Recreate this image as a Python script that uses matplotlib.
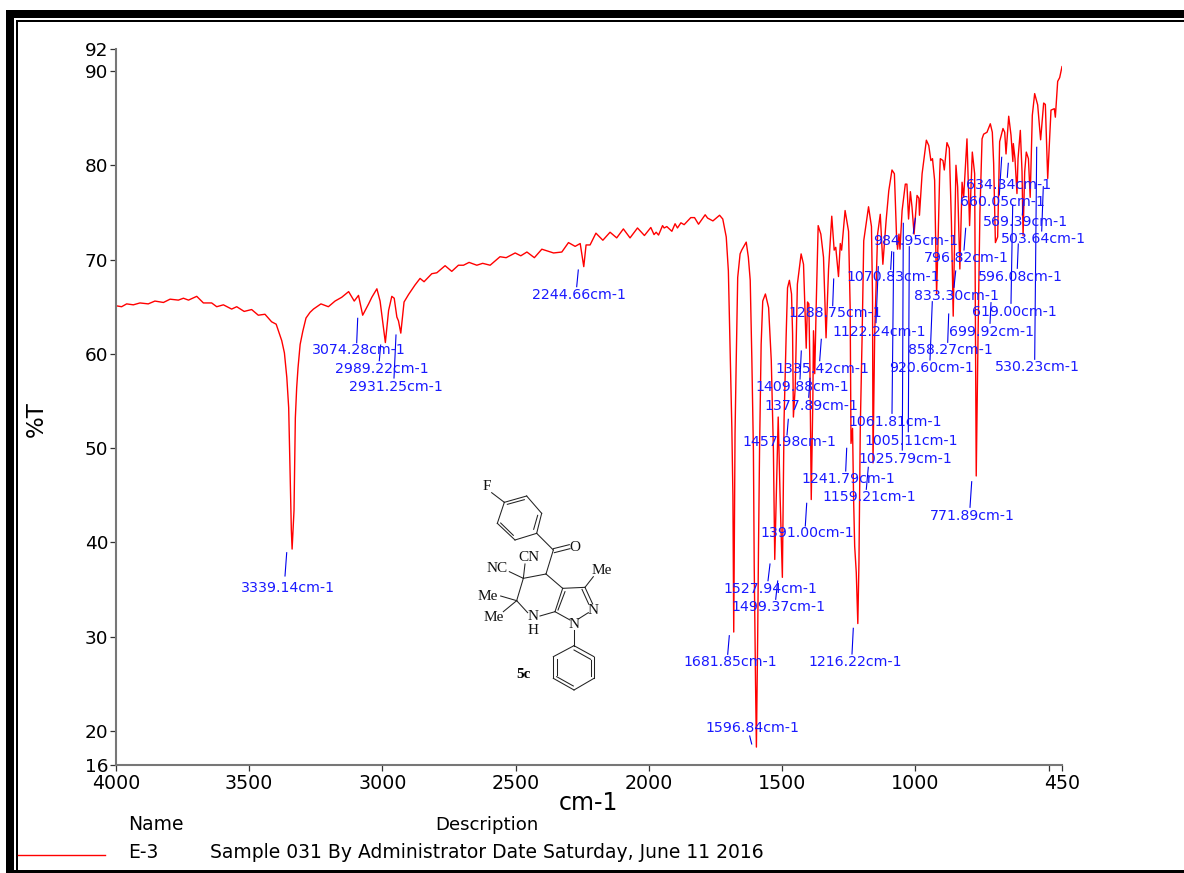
import matplotlib
matplotlib.use("Agg")
import matplotlib.pyplot as plt
from matplotlib.lines import Line2D
from matplotlib.patches import Rectangle

W, H = 1184, 873

wavenumber = [
    4000, 3979, 3960, 3935, 3910, 3879, 3854, 3822, 3797, 3766, 3747, 3728, 3697, 3672, 3641, 3622,
    3597, 3566, 3547, 3519, 3491, 3466, 3441, 3416, 3399, 3378, 3368, 3359, 3352, 3346, 3342, 3339.14,
    3332, 3327, 3322, 3317, 3309, 3299, 3287, 3272, 3259, 3231, 3203, 3178, 3153, 3127, 3106, 3090,
    3074.28, 3052, 3040, 3021, 3009, 2989.22, 2977, 2965, 2956, 2946, 2940, 2931.25, 2919, 2902, 2878, 2859,
    2844, 2815, 2796, 2765, 2740, 2715, 2696, 2675, 2646, 2624, 2596, 2559, 2536, 2502, 2481, 2458,
    2430, 2402, 2358, 2327, 2302, 2277, 2258, 2244.66, 2236, 2221, 2199, 2173, 2146, 2121, 2096, 2071,
    2043, 2017, 1993, 1981, 1973, 1964, 1949, 1943, 1933, 1914, 1902, 1893, 1880, 1868, 1843, 1829,
    1814, 1789, 1780, 1760, 1735, 1723, 1710, 1702, 1689, 1685, 1681.85, 1677, 1673, 1667, 1658, 1652,
    1635, 1627, 1620, 1614, 1608, 1605, 1600, 1596.84, 1592, 1589, 1585, 1579, 1573, 1563, 1551, 1541,
    1533, 1527.94, 1515, 1508, 1499.37, 1493, 1485, 1480, 1473, 1465, 1461, 1457.98, 1451, 1443, 1429, 1420,
    1414, 1409.88, 1405, 1400, 1396, 1391, 1385, 1382.6, 1377.89, 1372, 1365, 1355, 1345, 1335.42, 1326, 1314,
    1305, 1299, 1288.75, 1282, 1277, 1264, 1251, 1245, 1241.79, 1236, 1232, 1228, 1222, 1216.22, 1212, 1207,
    1200, 1194, 1176, 1165, 1161, 1159.21, 1153, 1150, 1142, 1132, 1122.24, 1110, 1100, 1088, 1079, 1070.83,
    1067, 1061.81, 1058, 1050, 1038, 1032, 1025.79, 1019, 1013, 1005.11, 994, 987, 984.95, 975, 959, 950,
    942, 936, 928, 920.6, 915, 909, 906.7, 896.7, 891.7, 881.7, 872.9, 865, 858.27, 847.9, 841.6, 833.3,
    825, 819, 806.6, 796.82, 786.6, 777.8, 771.89, 765, 758, 750, 744, 731.5, 719, 711.5, 706.5, 699.92,
    691.5, 684, 671.5, 665, 660.05, 650, 641.4, 634.34, 632.7, 626.4, 619, 615, 606.4, 600, 596.08, 590,
    584, 576, 569.39, 561.4, 552.6, 541.3, 530.23, 518.8, 512.5, 503.64, 491.3, 478.8, 475, 466.2, 458.7, 450,
]
transmittance = [
    65.1, 65.0, 65.3, 65.2, 65.4, 65.3, 65.6, 65.45, 65.8, 65.7, 65.9, 65.7, 66.1, 65.4, 65.4, 65.0,
    65.2, 64.75, 65.0, 64.5, 64.7, 64.1, 64.2, 63.4, 63.15, 61.4, 60.1, 57.5, 54.3, 46.5, 41.3, 39.3,
    43.4, 53.2, 56.4, 58.5, 61.0, 62.4, 63.8, 64.4, 64.75, 65.3, 65.0, 65.6, 66.0, 66.6, 65.6, 66.2,
    64.1, 65.3, 66.0, 66.9, 65.6, 61.2, 64.6, 66.1, 65.9, 63.9, 63.5, 62.2, 65.5, 66.3, 67.3, 68.0,
    67.65, 68.5, 68.6, 69.35, 68.75, 69.4, 69.4, 69.7, 69.4, 69.6, 69.4, 70.3, 70.2, 70.7, 70.4, 70.8,
    70.2, 71.1, 70.7, 70.8, 71.8, 71.4, 71.7, 69.25, 71.55, 71.55, 72.8, 72.05, 72.9, 72.3, 73.25, 72.3,
    73.35, 72.55, 73.4, 72.65, 72.9, 72.6, 73.6, 73.35, 73.5, 73.0, 73.8, 73.35, 73.9, 73.7, 74.45, 74.45,
    73.75, 74.75, 74.4, 74.1, 74.7, 74.3, 72.4, 68.8, 52.2, 45.0, 30.5, 51.5, 58.5, 68.1, 70.6, 71.0,
    71.85, 70.25, 67.8, 59.6, 49.7, 37.5, 25.0, 18.3, 30.0, 39.2, 49.8, 61.0, 65.6, 66.35, 64.9, 59.3,
    49.8, 38.2, 53.3, 45.0, 36.3, 53.0, 62.1, 67.0, 67.8, 66.35, 62.1, 53.3, 56.5, 67.4, 70.6, 69.5,
    64.2, 60.6, 65.5, 65.3, 58.7, 44.55, 55.1, 62.45, 57.9, 65.6, 73.6, 72.7, 70.25, 61.7, 69.0, 74.6,
    71.0, 71.3, 68.2, 71.7, 71.0, 75.2, 73.0, 65.0, 50.5, 52.1, 44.55, 39.6, 36.8, 31.4, 37.8, 52.1,
    62.0, 72.0, 75.6, 73.5, 66.0, 48.45, 62.0, 65.0, 72.7, 74.8, 69.5, 74.15, 77.3, 79.5, 79.1, 72.4,
    71.1, 72.7, 71.1, 75.2, 78.0, 78.0, 74.3, 77.2, 75.6, 72.7, 76.8, 76.5, 74.7, 79.1, 82.66, 82.1,
    80.5, 80.7, 78.4, 66.3, 72.0, 79.1, 80.7, 80.5, 79.5, 82.4, 81.8, 74.0, 64.0, 80.0, 77.7, 69.0,
    78.2, 76.6, 82.8, 73.6, 81.4, 79.1, 47.05, 62.0, 75.0, 82.8, 83.3, 83.5, 84.4, 83.5, 80.2, 71.8,
    72.4, 82.5, 83.9, 83.5, 81.2, 85.2, 83.2, 80.4, 82.3, 80.7, 77.0, 80.7, 83.7, 79.3, 72.55, 79.3,
    81.4, 80.7, 76.6, 85.3, 87.6, 86.4, 82.7, 86.6, 86.45, 78.6, 85.85, 86.0, 85.1, 88.9, 89.3, 90.46,
]

peak_names = [
    3339.14, 3074.28, 2989.22, 2931.25, 2244.66, 1681.85, 1596.84, 1527.94, 1499.37, 1457.98, 1409.88, 1391.00,
    1377.89, 1335.42, 1288.75, 1241.79, 1216.22, 1159.21, 1122.24, 1070.83, 1061.81, 1025.79, 1005.11, 984.95,
    920.60, 858.27, 833.30, 796.82, 771.89, 699.92, 660.05, 634.34, 619.00, 596.08, 569.39, 530.23, 503.64,
]
# layout only, in image pixels: label centre x, label centre y, leader x0 y0 x1 y1
peak_layout = [
    (288, 588, 286.7, 552.7, 285, 576), (359, 350, 357.7, 318.3, 356.7, 342.7),
    (382, 368.7, 380.7, 345, 379.3, 360.7), (396, 386.7, 396, 335, 394, 378),
    (579, 295, 578.3, 270, 576.7, 286.7), (730, 661.7, 729.3, 635.7, 727.7, 654.3),
    (752.3, 727.7, 749.7, 736, 751.7, 744), (770.7, 588.7, 770, 564, 768, 580.7),
    (778.3, 607.3, 777.7, 581, 775.7, 599.3), (789.7, 441.7, 788.3, 419.3, 787, 435),
    (802.7, 386.7, 801.3, 351, 800, 379), (807.7, 533.3, 806.7, 503.3, 805.3, 526),
    (811, 406, 810, 378.3, 808.7, 397.3), (822.3, 369, 821.3, 339.3, 819.7, 360.7),
    (835, 313.3, 833.7, 279, 832.7, 305.7), (848.3, 478.7, 846.7, 448.3, 845.7, 471),
    (855, 661.7, 853.3, 628.3, 852, 654), (869, 496.7, 868.3, 467.3, 866.3, 489.3),
    (879, 331.7, 878.3, 266.7, 876, 322.7), (893.3, 276.7, 891.7, 251.7, 890.7, 269.3),
    (895.3, 422.3, 893.7, 252.3, 892, 413.3), (905.7, 459.3, 903.3, 223.3, 902.3, 450),
    (911.3, 441.3, 909.3, 246.7, 908.3, 431.7), (916, 240.7, 915.3, 218.3, 913.3, 233.3),
    (932, 368.3, 932.3, 301.7, 930, 360), (950.3, 350, 948.7, 314, 947.7, 342.3),
    (956, 295.7, 955.7, 271, 954, 287.3), (966.7, 258.3, 965.7, 228.3, 964, 250),
    (972, 515.7, 971.7, 481.7, 970, 507.3), (992, 331.7, 991, 302.7, 990, 323.3),
    (1002, 202.3, 1001.7, 157.3, 999.3, 195), (1009, 185, 1008.3, 163.3, 1007.3, 177.3),
    (1014, 312.3, 1012.7, 205, 1011, 303.3), (1020, 276.7, 1018.3, 244, 1017.3, 268.3),
    (1025, 221.7, 1023.3, 201.7, 1022.3, 215), (1037.7, 367.3, 1036.7, 147.3, 1034.7, 359.3),
    (1043.7, 239.3, 1043.3, 186.7, 1041.7, 231),
]

x_ticks = [4000, 3500, 3000, 2500, 2000, 1500, 1000, 500, 450]
x_tick_labels = ["4000", "3500", "3000", "2500", "2000", "1500", "1000", "", "450"]
y_bottom, y_top = 16.4, 92.33
y_ticks = [y_bottom, 20, 30, 40, 50, 60, 70, 80, 90, y_top]
y_tick_labels = ["16", "20", "30", "40", "50", "60", "70", "80", "90", "92"]

# structure drawing, in pixels of a 3x crop starting at (460, 470)
bonds = [
    (95, 68, 133, 97), (133, 97, 200, 78), (200, 78, 245, 130), (245, 130, 230, 190), (230, 190, 165, 210),
    (165, 210, 112, 160), (112, 160, 133, 97), (142, 103, 193, 89), (233, 136, 221, 178), (160, 196, 122, 159),
    (230, 190, 280, 240), (280, 236, 328, 224), (283, 248, 330, 236), (280, 240, 258, 312),
    (258, 312, 190, 325), (190, 325, 195, 282), (148, 305, 190, 325), (190, 325, 170, 392),
    (170, 392, 122, 378), (170, 392, 130, 425), (170, 392, 203, 428), (240, 438, 285, 425),
    (285, 425, 308, 355), (294, 420, 315, 365), (308, 355, 258, 312), (308, 355, 375, 352),
    (375, 352, 398, 402), (366, 358, 386, 402), (375, 352, 400, 320), (385, 428, 355, 447),
    (330, 450, 285, 425), (342, 480, 342, 527), (342, 527, 402, 560), (402, 560, 402, 625),
    (402, 625, 342, 660), (342, 660, 280, 625), (280, 625, 280, 560), (280, 560, 342, 527),
    (342, 540, 392, 568), (392, 570, 392, 618), (340, 648, 290, 620), (290, 615, 290, 566),
]
atoms = [
    ("F", 80, 50), ("O", 345, 232), ("CN", 207, 262), ("NC", 110, 295), ("Me", 82, 378), ("Me", 100, 442),
    ("N", 218, 440), ("H", 218, 483), ("N", 398, 420), ("N", 342, 462), ("Me", 425, 302),
]

fig = plt.figure(figsize=(W / 100, H / 100), dpi=100)
ax = fig.add_axes([116 / W, 1 - 765 / H, (1062 - 116) / W, (765 - 49) / H])


def fx(x):
    return x / W


def fy(y):
    return 1 - y / H


def frame_box(x0, y0, x1, y1):
    fig.add_artist(Rectangle((fx(x0), fy(y1)), (x1 - x0) / W, (y1 - y0) / H,
                             transform=fig.transFigure, color="k", lw=0))


ax.plot(wavenumber, transmittance, color="#ff0000", lw=1.0, solid_joinstyle="round")
ax.set_xlim(4000, 450)
ax.set_ylim(y_bottom, y_top)
ax.set_xticks(x_ticks)
ax.set_xticklabels(x_tick_labels, fontsize=13.7)
ax.set_yticks(y_ticks)
ax.set_yticklabels(y_tick_labels, fontsize=13.3)
ax.tick_params(axis="both", length=4.2, width=0.9, color="#333333", pad=1.5)
ax.tick_params(axis="x", pad=2.5)
ax.spines["top"].set_visible(False)
ax.spines["right"].set_visible(False)
ax.spines["left"].set_color("#777777")
ax.spines["bottom"].set_color("#777777")
ax.spines["left"].set_linewidth(1.5)
ax.spines["bottom"].set_linewidth(1.5)

for name, (tx, ty, x0, y0, x1, y1) in zip(peak_names, peak_layout):
    fig.add_artist(Line2D([fx(x0), fx(x1)], [fy(y0), fy(y1)], color="#0000ee", lw=0.8))
    fig.text(fx(tx), fy(ty), "%.2fcm-1" % name, color="#1a1aff", fontsize=10.2,
             ha="center", va="center")

for x0, y0, x1, y1 in bonds:
    fig.add_artist(Line2D([fx(460 + x0 / 3), fx(460 + x1 / 3)],
                          [fy(470 + y0 / 3), fy(470 + y1 / 3)], color="#222222", lw=0.75))
for label, x, y in atoms:
    fig.text(fx(460 + x / 3), fy(470 + y / 3), label, family="Liberation Serif", fontsize=11,
             ha="center", va="center", color="#111111")
fig.text(fx(460 + 190 / 3), fy(470 + 615 / 3), "5c", family="Liberation Serif", fontsize=11,
         fontweight="bold", ha="center", va="center")

fig.text(fx(588), fy(803), "cm-1", fontsize=17, ha="center", va="center")
fig.text(fx(36), fy(419), "%T", fontsize=16.5, rotation=90, ha="center", va="center")
fig.text(fx(128), fy(825), "Name", fontsize=13.5, va="center")
fig.text(fx(435), fy(825), "Description", fontsize=13.1, va="center")
fig.text(fx(128), fy(852), "E-3", fontsize=13.5, va="center")
fig.text(fx(210), fy(852), "Sample 031 By Administrator Date Saturday, June 11 2016", fontsize=13.5, va="center")
fig.add_artist(Line2D([fx(18), fx(105)], [fy(854.5), fy(854.5)], color="#ff0000", lw=1.0))

# page border
frame_box(6, 10, W, 18)
frame_box(16, 20, W, 22)
frame_box(6, 10, 14, H)
frame_box(16, 20, 18, 870)
frame_box(14, 870, W, H)

fig.savefig("out.png", dpi=100)
